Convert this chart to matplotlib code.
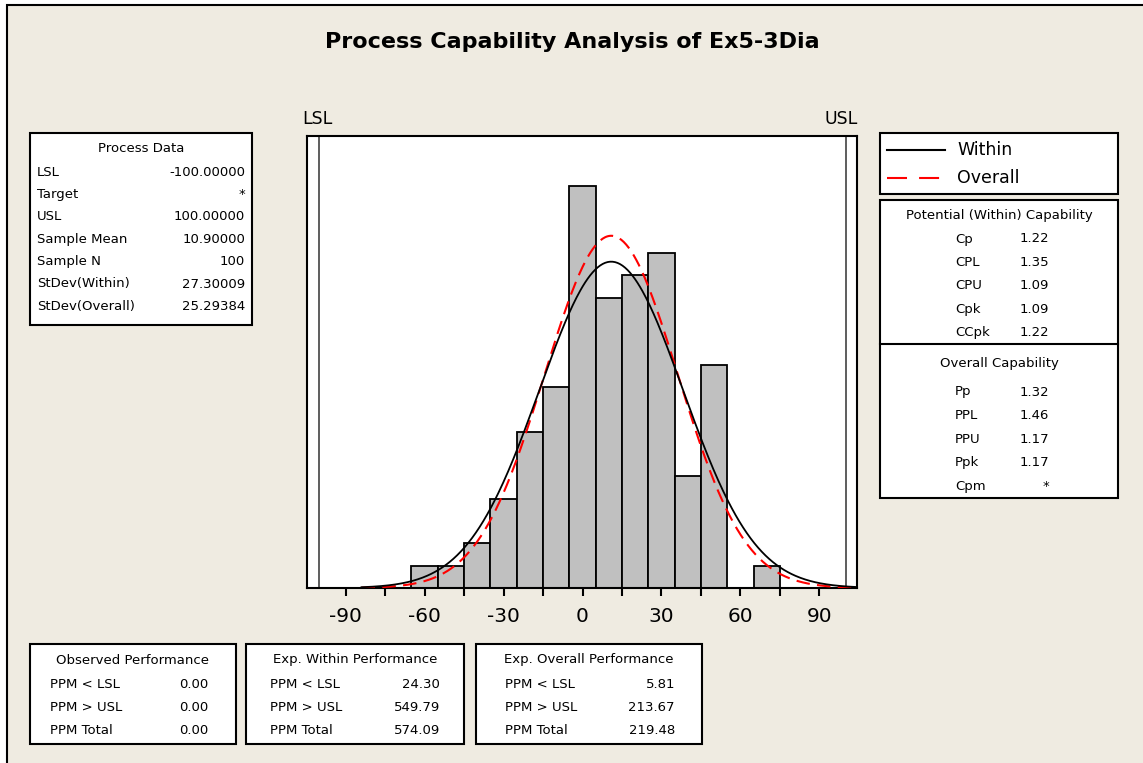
import numpy as np
import matplotlib
matplotlib.use("Agg")
import matplotlib.pyplot as plt
from matplotlib.patches import Rectangle
from matplotlib.lines import Line2D

# histogram of Ex5-3Dia: bin centres (width 10) and counts
bin_centers = [-60, -50, -40, -30, -20, -10, 0, 10, 20, 30, 40, 50, 60, 70]
counts = [1, 1, 2, 4, 7, 9, 18, 13, 14, 15, 5, 10, 0, 1]
bin_width = 10

lsl, usl = -100.0, 100.0
mean = 10.9
n_obs = 100
sd_within = 27.30009
sd_overall = 25.29384

tick_values = [-90, -60, -30, 0, 30, 60, 90]
tick_labels = ["-90", "-60", "-30", "0", "30", "60", "90"]

process_rows = [("LSL", "-100.00000"), ("Target", "*"), ("USL", "100.00000"),
                ("Sample Mean", "10.90000"), ("Sample N", "100"),
                ("StDev(Within)", "27.30009"), ("StDev(Overall)", "25.29384")]
within_rows = [("Cp", "1.22"), ("CPL", "1.35"), ("CPU", "1.09"), ("Cpk", "1.09"), ("CCpk", "1.22")]
overall_rows = [("Pp", "1.32"), ("PPL", "1.46"), ("PPU", "1.17"), ("Ppk", "1.17"), ("Cpm", "*")]
observed_perf = [("PPM < LSL", "0.00"), ("PPM > USL", "0.00"), ("PPM Total", "0.00")]
exp_within_perf = [("PPM < LSL", "24.30"), ("PPM > USL", "549.79"), ("PPM Total", "574.09")]
exp_overall_perf = [("PPM < LSL", "5.81"), ("PPM > USL", "213.67"), ("PPM Total", "219.48")]

W, H = 1143, 763
BG = "#EFEBE1"
FS = 9.5


def fx(x):
    return x / W


def fy(y):
    return 1 - y / H


fig = plt.figure(figsize=(W / 100, H / 100), dpi=100)
fig.patch.set_facecolor("white")
plt.rcParams["font.family"] = "DejaVu Sans"


def box(x0, y0, x1, y1, lw=1.5, fc="white", z=1):
    fig.add_artist(Rectangle((fx(x0), fy(y1)), fx(x1) - fx(x0), fy(y0) - fy(y1),
                             transform=fig.transFigure, fc=fc, ec="black", lw=lw, zorder=z))


def hline(x0, x1, y, **kw):
    fig.add_artist(Line2D([fx(x0), fx(x1)], [fy(y), fy(y)], transform=fig.transFigure, **kw))


def txt(x, y, s, ha="left", size=FS, **kw):
    fig.text(fx(x), fy(y), s, ha=ha, va="center", fontsize=size, **kw)


# graph background, kept behind the axes
box(7, 5, W + 20, H + 20, lw=1.5, fc=BG, z=-10)

txt(572, 42, "Process Capability Analysis of Ex5-3Dia", ha="center", size=16, weight="bold")

# histogram panel
ax = fig.add_axes([fx(307), fy(588), fx(857) - fx(307), fy(136) - fy(588)])
ax.set_zorder(2)
ax.bar(bin_centers, counts, width=bin_width, color="#C0C0C0", edgecolor="black", lw=1.3, zorder=2)

xs = np.linspace(-84, 104.5, 400)
scale = n_obs * bin_width
pdf_w = scale * np.exp(-0.5 * ((xs - mean) / sd_within) ** 2) / (sd_within * np.sqrt(2 * np.pi))
pdf_o = scale * np.exp(-0.5 * ((xs - mean) / sd_overall) ** 2) / (sd_overall * np.sqrt(2 * np.pi))
ax.plot(xs, pdf_o, color="red", lw=1.5, ls=(0, (6.5, 3.5)), zorder=3)
ax.plot(xs, pdf_w, color="black", lw=1.3, zorder=4)

ax.axvline(lsl, color="#505050", lw=1.3, zorder=1)
ax.axvline(usl, color="#505050", lw=1.3, zorder=1)

ax.set_xlim(-104.7, 104.3)
ax.set_ylim(0, 20.24)
ax.set_yticks([])
ax.set_xticks(tick_values)
ax.set_xticklabels(tick_labels, fontsize=14.5)
ax.set_xticks([-75, -45, -15, 15, 45, 75], minor=True)
ax.tick_params(axis="x", which="both", direction="out", length=6, width=1.5, pad=8)
for sp in ax.spines.values():
    sp.set_linewidth(1.5)

txt(302, 119, "LSL", size=12.5)
txt(858, 119, "USL", ha="right", size=12.5)

# process data table
box(30, 133, 252, 325)
txt(141, 149, "Process Data", ha="center")
for i, (lab, val) in enumerate(process_rows):
    y = 172 + 22.4 * i
    txt(37, y, lab)
    txt(245, y, val, ha="right")

# legend
box(880, 133, 1118, 194)
hline(887, 945, 150, color="black", lw=1.5)
hline(887, 945, 178, color="red", lw=1.5, ls=(0, (9.6, 5.8)))
txt(957, 150, "Within", size=12.5)
txt(957, 178, "Overall", size=12.5)

# capability indices
box(880, 200, 1118, 498)
hline(880, 1118, 344, color="black", lw=1.5)
txt(999, 215, "Potential (Within) Capability", ha="center")
for i, (lab, val) in enumerate(within_rows):
    y = 239 + 23.5 * i
    txt(955, y, lab)
    txt(1049, y, val, ha="right")
txt(999, 364, "Overall Capability", ha="center")
for i, (lab, val) in enumerate(overall_rows):
    y = 392 + 23.5 * i
    txt(955, y, lab)
    txt(1049, y, val, ha="right")

# performance tables
perf_tables = [
    ("Observed Performance", observed_perf, 30, 236, 50, 208),
    ("Exp. Within Performance", exp_within_perf, 246, 464, 270, 440),
    ("Exp. Overall Performance", exp_overall_perf, 476, 702, 505, 675),
]
for title, rows, x0, x1, xl, xr in perf_tables:
    box(x0, 644, x1, 744)
    txt((x0 + x1) / 2, 660, title, ha="center")
    for i, (lab, val) in enumerate(rows):
        y = 684 + 23.5 * i
        txt(xl, y, lab)
        txt(xr, y, val, ha="right")

fig.savefig("out.png", dpi=100, facecolor=fig.get_facecolor())
